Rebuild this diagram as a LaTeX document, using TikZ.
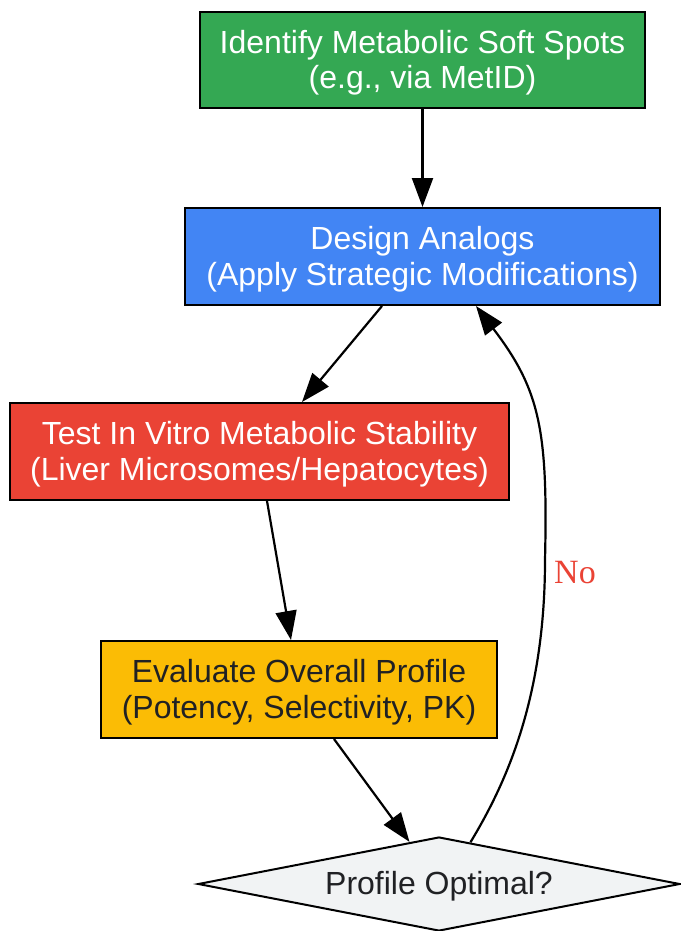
\documentclass[tikz,border=0pt]{standalone}
\usepackage{fontspec}
\setmainfont{Liberation Sans}
\newfontfamily\labelserif{Liberation Serif}
\usetikzlibrary{arrows.meta,shapes.geometric}
\definecolor{gGreen}{HTML}{34A853}
\definecolor{gBlue}{HTML}{4285F4}
\definecolor{gRed}{HTML}{EA4335}
\definecolor{gYellow}{HTML}{FBBC05}
\definecolor{gGrey}{HTML}{F1F3F4}
\definecolor{gDark}{HTML}{202124}
\newcommand{\topstrut}{\rule{0pt}{29pt}}
\tikzset{
  stepbox/.style={draw=black, line width=2pt, rectangle, align=center, inner sep=0pt,
    font=\fontsize{32}{35.5}\selectfont},
  decision/.style={draw=black, line width=2pt, diamond, aspect=5, inner sep=0pt, align=center,
    fill=gGrey, text=gDark, font=\fontsize{32}{35}\selectfont},
  flow/.style={line width=2.2pt, -{Triangle[length=29pt,width=21pt]}},
}
\begin{document}
\begin{tikzpicture}[x=1pt,y=-1pt]
\useasboundingbox (0,0) rectangle (680,931);
\node[stepbox, fill=gGreen, text=white, minimum width=445pt, minimum height=96pt] (green) at (422.5,60)
  {\topstrut Identify Metabolic Soft Spots\\(e.g., via MetID)};
\node[stepbox, fill=gBlue, text=white, minimum width=475pt, minimum height=97pt] (blue) at (422.5,256.5)
  {\topstrut Design Analogs\\(Apply Strategic Modifications)};
\node[stepbox, fill=gRed, text=white, minimum width=499pt, minimum height=97pt] (red) at (259.5,451.5)
  {\topstrut Test In Vitro Metabolic Stability\\(Liver Microsomes/Hepatocytes)};
\node[stepbox, fill=gYellow, text=gDark, minimum width=396pt, minimum height=97pt] (yellow) at (299,689.5)
  {\topstrut Evaluate Overall Profile\\(Potency, Selectivity, PK)};
\node[decision, minimum width=482pt, minimum height=94pt] (dec) at (439,884) {\rule{0pt}{28pt}Profile Optimal?};

\draw[flow] (green.south) -- (blue.north);
\draw[flow] ([xshift=-40.5pt]blue.south) -- ([xshift=42.5pt]red.north);
\draw[flow] ([xshift=7.5pt]red.south) -- ([xshift=-8pt]yellow.north);
\draw[flow] ([xshift=35pt]yellow.south) -- (dec.125);
\coordinate (mid) at (545,560);
\draw[flow] (dec.53) .. controls (505,785) and (545,700) .. (mid)
  .. controls (548,430) and (540,390) .. ([xshift=53.5pt]blue.south);
\node[text=gRed, font=\labelserif\fontsize{34}{40}\selectfont] (no) at (575,573) {No};
\end{tikzpicture}
\end{document}
